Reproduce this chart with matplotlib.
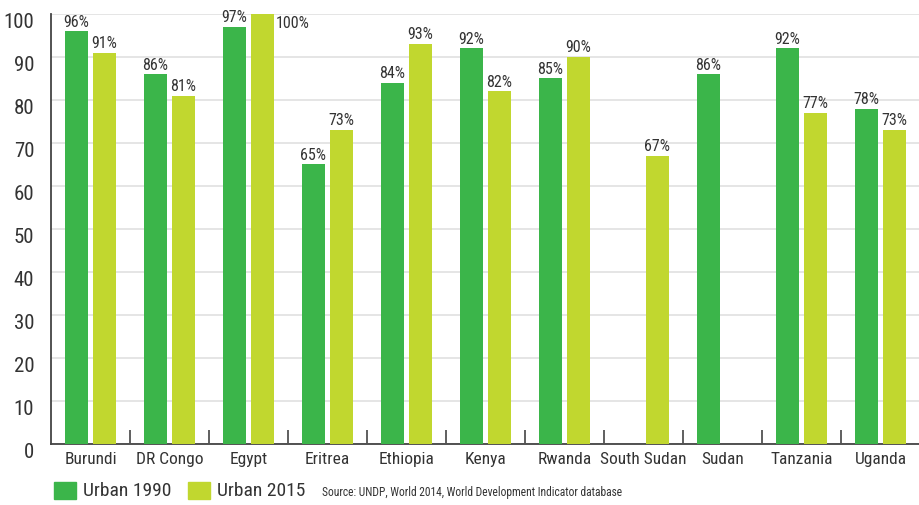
import numpy as np
import matplotlib
matplotlib.use("Agg")
import matplotlib.pyplot as plt
from matplotlib import font_manager
from matplotlib.patches import Rectangle
from matplotlib.transforms import ScaledTranslation

countries = ["Burundi", "DR Congo", "Egypt", "Eritrea", "Ethiopia", "Kenya",
             "Rwanda", "South Sudan", "Sudan", "Tanzania", "Uganda"]
urban_1990 = [96, 86, 97, 65, 84, 92, 85, np.nan, 86, 92, 78]
urban_2015 = [91, 81, 100, 73, 93, 82, 90, 67, np.nan, 77, 73]
yticks = list(range(0, 101, 10))

green = "#3bb54a"
lime = "#c1d72f"
ink = "#333333"

# prefer a narrow face for the labels
fonts = font_manager.fontManager.ttflist
names = {f.name for f in fonts}
condensed = {f.name for f in fonts if f.stretch in ("condensed", "semi-condensed", 600, 500) or "Condensed" in f.fname}
family = "DejaVu Sans"
for cand in ["Liberation Sans Narrow", "Roboto Condensed", "Open Sans Condensed"]:
    if cand in names:
        family = cand
        break
else:
    if "DejaVu Sans" in condensed:
        family = "DejaVu Sans"
        plt.rcParams["font.stretch"] = "condensed"
    elif "Roboto" in condensed:
        family = "Roboto"
        plt.rcParams["font.stretch"] = "condensed"
    elif "Lato" in names:
        family = "Lato"
plt.rcParams["font.family"] = [family, "DejaVu Sans"]

fig = plt.figure(figsize=(9.2, 5.06), dpi=100)
ax = fig.add_axes([0.0554, 0.1206, 0.9446, 0.8498])

x = np.arange(len(countries))
w = 0.29
off = 0.177
ax.bar(x - off, urban_1990, w, color=green, zorder=3)
ax.bar(x + off, urban_2015, w, color=lime, zorder=3)

# percentage labels over each bar
for xs, vals in ((x - off, urban_1990), (x + off, urban_2015)):
    for xi, v in zip(xs, vals):
        if np.isnan(v):
            continue
        if v >= 100:
            ax.text(xi + w / 2 + 0.02, v - 0.2, f"{v:.0f}%", ha="left", va="top",
                    fontsize=11.5, color=ink, zorder=4)
        else:
            ax.text(xi, v + 0.6, f"{v:.0f}%", ha="center", va="bottom",
                    fontsize=11.5, color=ink, zorder=4)

ax.set_xlim(-0.5, len(countries) - 0.5)
ax.set_ylim(0, 100)
ax.set_yticks(yticks)
ax.set_yticklabels([str(t) for t in yticks], fontsize=15, color=ink)
ax.set_xticks(x)
ax.set_xticklabels(countries, fontsize=12.5, color=ink)
ax.set_xticks(np.arange(0.5, len(countries) - 1), minor=True)
ax.tick_params(axis="x", which="major", length=0, pad=5)
ax.tick_params(axis="x", which="minor", direction="in", length=10, width=1.2, color="#444444")
ax.tick_params(axis="y", length=0, pad=12)
for lab in ax.get_yticklabels():
    lab.set_transform(lab.get_transform() + ScaledTranslation(0, -6 / 100, fig.dpi_scale_trans))

ax.grid(axis="y", color="#e3e3e3", linewidth=1.3, zorder=0)
ax.set_axisbelow(True)
for side in ("top", "right"):
    ax.spines[side].set_visible(False)
for side in ("left", "bottom"):
    ax.spines[side].set_color("#444444")
    ax.spines[side].set_linewidth(1.3)

# legend and source line underneath
fig.patches.append(Rectangle((54 / 920, 1 - 500 / 506), 22 / 920, 17 / 506,
                             transform=fig.transFigure, color=green))
fig.text(83 / 920, 1 - 491 / 506, "Urban 1990", fontsize=14, color=ink, va="center")
fig.patches.append(Rectangle((188 / 920, 1 - 500 / 506), 22 / 920, 17 / 506,
                             transform=fig.transFigure, color=lime))
fig.text(217 / 920, 1 - 491 / 506, "Urban 2015", fontsize=14, color=ink, va="center")
fig.text(322 / 920, 1 - 493 / 506, "Source: UNDP, World 2014, World Development Indicator database",
         fontsize=8.3, color=ink, va="center")

fig.savefig("out.png", dpi=100)
